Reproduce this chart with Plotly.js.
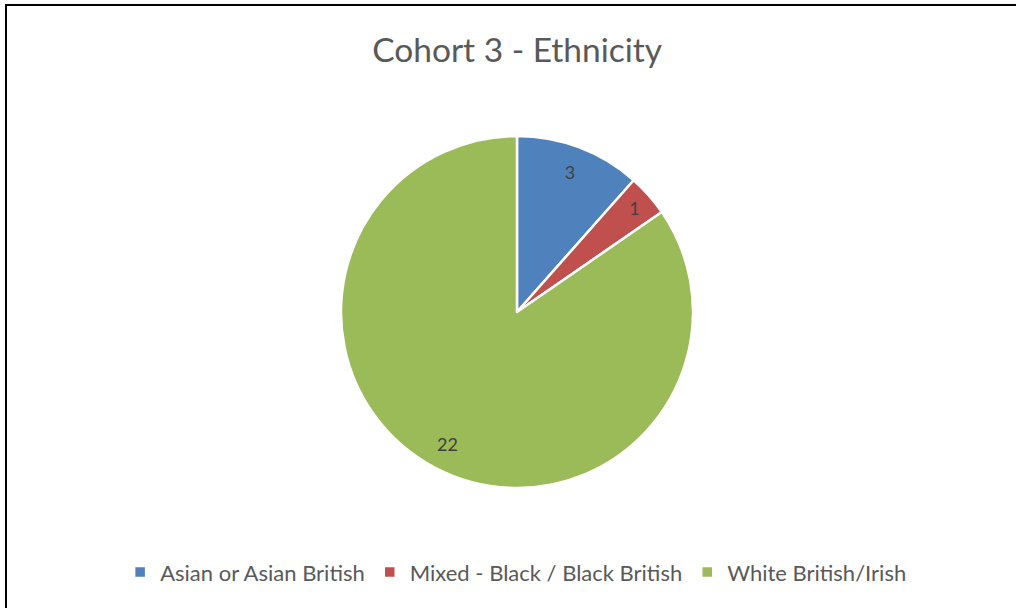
<!DOCTYPE html>
<html>
<head>
<meta charset="utf-8">
<script src="https://cdn.plot.ly/plotly-3.0.1.min.js"></script>
<style>
html,body{margin:0;padding:0;background:#fff;overflow:hidden;}
#wrap{position:relative;width:1016px;height:608px;overflow:hidden;}
#chart{width:1016px;height:608px;}
#frame{position:absolute;left:5px;top:4px;width:1100px;height:700px;border-left:2px solid #000;border-top:2px solid #000;pointer-events:none;}
</style>
</head>
<body>
<div id="wrap">
<div id="chart"></div>
<div id="frame"></div>
</div>
<script>
const categories = ["Asian or Asian British", "Mixed - Black / Black British", "White British/Irish"];
const counts = [3, 1, 22];
const colors = ["#4F81BD", "#C0504D", "#9BBB59"];
const chartTitle = "Cohort 3 - Ethnicity";

const pieDomain = {x: [0.3356, 0.6821], y: [0.1974, 0.7763]};

// Filled slices with legend, no text
const slices = {
  type: "pie",
  labels: categories,
  values: counts,
  sort: false,
  direction: "clockwise",
  rotation: 0,
  marker: {colors: colors, line: {color: "#ffffff", width: 2.5}},
  textinfo: "none",
  hoverinfo: "label+value",
  domain: pieDomain
};

// Transparent ring over the same slices, used only to place the value labels
const valueLabels = {
  type: "pie",
  labels: categories,
  values: counts,
  sort: false,
  direction: "clockwise",
  rotation: 0,
  hole: 0.7,
  showlegend: false,
  marker: {colors: categories.map(() => "rgba(0,0,0,0)"), line: {width: 0}},
  textinfo: "value",
  textposition: "inside",
  insidetextorientation: "horizontal",
  textfont: {family: "Lato, sans-serif", size: 18, color: "#404040"},
  hoverinfo: "skip",
  domain: pieDomain
};

const layout = {
  width: 1016,
  height: 608,
  margin: {l: 0, r: 0, t: 0, b: 0},
  paper_bgcolor: "#ffffff",
  title: {
    text: chartTitle,
    font: {family: "Lato, sans-serif", size: 33.5, color: "#595959"},
    x: 0.509, xanchor: "center",
    y: 0.918, yanchor: "middle"
  },
  showlegend: true,
  legend: {
    orientation: "h",
    x: 0.508, xanchor: "center",
    y: 0.059, yanchor: "middle",
    font: {family: "Lato, sans-serif", size: 22, color: "#595959"},
    itemclick: false
  }
};

Plotly.newPlot("chart", [slices, valueLabels], layout, {displayModeBar: false, staticPlot: true});
</script>
</body>
</html>
